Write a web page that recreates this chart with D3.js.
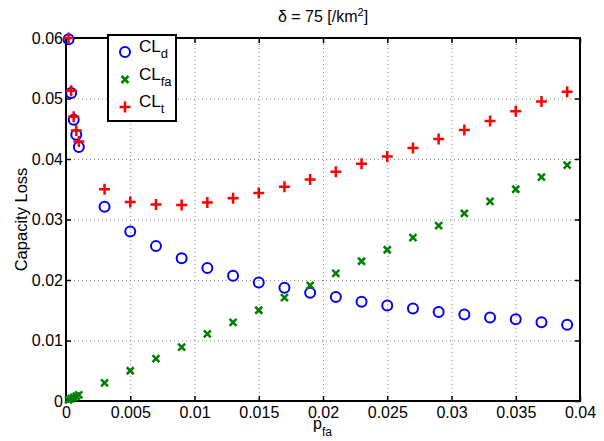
<!DOCTYPE html>
<html>
<head>
<meta charset="utf-8">
<script src="https://cdn.jsdelivr.net/npm/d3@7"></script>
<style>
  body { margin: 0; background: #fff; }
  svg text { font-family: "Liberation Sans", Arial, sans-serif; fill: #000; }
</style>
</head>
<body>
<div id="chart"></div>
<script>
// ---------------- data ----------------
var pfa = [0.0002, 0.0004, 0.0006, 0.0008, 0.001,
           0.003, 0.005, 0.007, 0.009, 0.011, 0.013, 0.015, 0.017, 0.019,
           0.021, 0.023, 0.025, 0.027, 0.029, 0.031, 0.033, 0.035, 0.037, 0.039];
var clD = [0.0598, 0.0509, 0.0465, 0.0440, 0.0420,
           0.0321, 0.0280, 0.0256, 0.0236, 0.0220, 0.0207, 0.0196, 0.0187, 0.0179,
           0.0172, 0.0164, 0.0158, 0.0153, 0.0147, 0.0143, 0.0138, 0.0135, 0.0130, 0.0126];
var clFa = [0.0002, 0.0004, 0.0006, 0.0008, 0.001,
            0.0030, 0.0050, 0.0070, 0.0089, 0.0111, 0.0130, 0.0150, 0.0171, 0.0191,
            0.0211, 0.0231, 0.0250, 0.0270, 0.0290, 0.0310, 0.0330, 0.0350, 0.0370, 0.0390];
var clT = [0.0600, 0.0513, 0.0470, 0.0447, 0.0429,
           0.0350, 0.0329, 0.0325, 0.0324, 0.0328, 0.0335, 0.0344, 0.0354, 0.0366,
           0.0379, 0.0392, 0.0404, 0.0418, 0.0433, 0.0448, 0.0463, 0.0479, 0.0495, 0.0511];
var xTicks = [0, 0.005, 0.01, 0.015, 0.02, 0.025, 0.03, 0.035, 0.04];
var yTicks = [0, 0.01, 0.02, 0.03, 0.04, 0.05, 0.06];
var legendNames = [["CL", "d"], ["CL", "fa"], ["CL", "t"]];

//--------------------------layout-----------------------------
var W = 604, H = 441;
var margin = {top: 38, right: 24, bottom: 40, left: 66};
var width = W - margin.left - margin.right,
    height = H - margin.top - margin.bottom;

var svg = d3.select("#chart").append("svg")
    .attr("width", W).attr("height", H);
var g = svg.append("g")
    .attr("transform", "translate(" + margin.left + "," + margin.top + ")");

var x = d3.scaleLinear().domain([0, 0.04]).range([0, width]);
var y = d3.scaleLinear().domain([0, 0.06]).range([height, 0]);
var fmt = d3.format("~g");

// grid
g.append("g").attr("class", "grid")
    .attr("transform", "translate(0," + height + ")")
    .call(d3.axisBottom(x).tickValues(xTicks).tickSize(-height).tickFormat(""));
g.append("g").attr("class", "grid")
    .call(d3.axisLeft(y).tickValues(yTicks).tickSize(-width).tickFormat(""));
g.selectAll(".grid .domain").remove();
g.selectAll(".grid line")
    .attr("stroke", "#888").attr("stroke-width", 1).attr("stroke-dasharray", "1,3");

// axes, ticks pointing inward on every side
var bottom = g.append("g").attr("transform", "translate(0," + height + ")")
    .call(d3.axisBottom(x).tickValues(xTicks).tickSize(-5).tickPadding(6).tickFormat(fmt));
var left = g.append("g")
    .call(d3.axisLeft(y).tickValues(yTicks).tickSize(-5).tickPadding(3).tickFormat(fmt));
g.append("g").call(d3.axisTop(x).tickValues(xTicks).tickSize(-5).tickFormat(""));
g.append("g").attr("transform", "translate(" + width + ",0)")
    .call(d3.axisRight(y).tickValues(yTicks).tickSize(-5).tickFormat(""));
g.selectAll(".domain").remove();
g.selectAll(".tick line").filter(function () { return !this.closest(".grid"); })
    .attr("stroke", "#000").attr("stroke-width", 1.5);
[bottom, left].forEach(function (a) {
    a.selectAll("text").style("font-size", "16px").attr("fill", "#000");
});

g.append("rect").attr("width", width).attr("height", height)
    .attr("fill", "none").attr("stroke", "#000").attr("stroke-width", 2);

// markers
var rows = pfa.map(function (p, i) { return {p: p, d: clD[i], fa: clFa[i], t: clT[i]}; });

function drawCircle(sel) {
    sel.append("circle").attr("r", 5).attr("fill", "none")
        .attr("stroke", "#0000ff").attr("stroke-width", 2);
}
function drawCross(sel) {
    sel.append("path").attr("d", "M-3.5,-3.5L3.5,3.5M-3.5,3.5L3.5,-3.5")
        .attr("stroke", "#008000").attr("stroke-width", 2.5);
}
function drawPlus(sel) {
    sel.append("path").attr("d", "M-5.5,0H5.5M0,-5.5V5.5")
        .attr("stroke", "#ff0000").attr("stroke-width", 2.5);
}

var marks = [["d", drawCircle], ["fa", drawCross], ["t", drawPlus]];
marks.forEach(function (m) {
    g.append("g").selectAll("g").data(rows).enter().append("g")
        .attr("transform", function (d) { return "translate(" + x(d.p) + "," + y(d[m[0]]) + ")"; })
        .call(m[1]);
});

// legend
var leg = svg.append("g").attr("transform", "translate(108,35)");
leg.append("rect").attr("width", 68).attr("height", 86)
    .attr("fill", "#fff").attr("stroke", "#000").attr("stroke-width", 2);
legendNames.forEach(function (n, i) {
    var row = leg.append("g").attr("transform", "translate(0," + (17 + i * 27.5) + ")");
    row.append("g").attr("transform", "translate(17,0)").call(marks[i][1]);
    var t = row.append("text").attr("x", 31).attr("y", 0).style("font-size", "17px");
    t.append("tspan").text(n[0]);
    t.append("tspan").attr("dy", 6).style("font-size", "13px").text(n[1]);
});

// title and labels
var title = svg.append("text").attr("x", margin.left + width / 2).attr("y", 22)
    .attr("text-anchor", "middle").style("font-size", "16px");
title.append("tspan").text("\u03b4 = 75 [/km");
title.append("tspan").attr("dy", -6).style("font-size", "11px").text("2");
title.append("tspan").attr("dy", 6).text("]");

svg.append("text")
    .attr("transform", "translate(26.5," + (margin.top + height / 2) + ") rotate(-90)")
    .attr("text-anchor", "middle").style("font-size", "16.5px")
    .text("Capacity Loss");

var xl = svg.append("text").attr("x", 313).attr("y", 429).style("font-size", "16px");
xl.append("tspan").text("p");
xl.append("tspan").attr("dy", 7).style("font-size", "12px").text("fa");
</script>
</body>
</html>
